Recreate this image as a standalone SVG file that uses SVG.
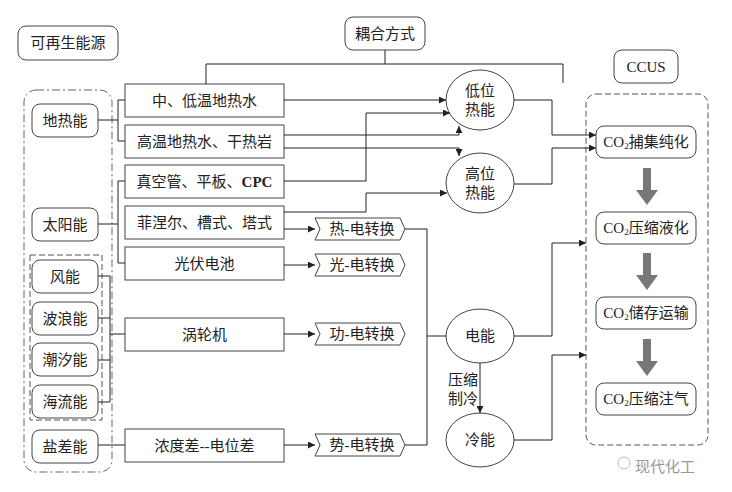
<svg xmlns="http://www.w3.org/2000/svg" width="732" height="492" viewBox="0 0 732 492">
<style>
.b{fill:#fff;stroke:#444;stroke-width:1}
.d{fill:none;stroke:#555;stroke-width:1;stroke-dasharray:6,3}
.dd{fill:none;stroke:#666;stroke-width:1;stroke-dasharray:8,3,2,3}
text{font-family:"Liberation Serif","Noto Sans CJK SC",serif;font-size:15px;fill:#222;text-anchor:middle;dominant-baseline:central}
.c path,.c line{fill:none;stroke:#222;stroke-width:1}
.a{marker-end:url(#ar)}
</style>
<defs>
<marker id="ar" viewBox="0 0 10 10" refX="10" refY="5" markerWidth="7" markerHeight="7" orient="auto" markerUnits="userSpaceOnUse"><path d="M0,0L10,5L0,10z" fill="#222"/></marker>
</defs>
<rect width="732" height="492" fill="#fff"/>
<g id="title-left"><rect class="b" x="18" y="26" width="100" height="34" rx="8"/><text x="68" y="43">可再生能源</text></g>
<rect class="dd" x="24" y="90" width="88" height="382" rx="12"/>
<rect class="d" x="30" y="255" width="72" height="165"/>
<g id="n-geo"><rect class="b" x="32" y="104" width="66" height="33" rx="8"/><text x="65" y="120.5">地热能</text></g>
<g id="n-sun"><rect class="b" x="32" y="208" width="66" height="33" rx="8"/><text x="65" y="224.5">太阳能</text></g>
<g id="n-wind"><rect class="b" x="32" y="260" width="66" height="33" rx="8"/><text x="65" y="276.5">风能</text></g>
<g id="n-wave"><rect class="b" x="32" y="302" width="66" height="33" rx="8"/><text x="65" y="318.5">波浪能</text></g>
<g id="n-tide"><rect class="b" x="32" y="343" width="66" height="33" rx="8"/><text x="65" y="359.5">潮汐能</text></g>
<g id="n-ocean"><rect class="b" x="32" y="385" width="66" height="33" rx="8"/><text x="65" y="401.5">海流能</text></g>
<g id="n-salt"><rect class="b" x="32" y="430" width="66" height="33" rx="8"/><text x="65" y="446.5">盐差能</text></g>

<g id="m1"><rect class="b" x="125" y="84" width="159" height="33"/><text x="204.5" y="100.5">中、低温地热水</text></g>
<g id="m2"><rect class="b" x="125" y="125" width="159" height="33"/><text x="204.5" y="141.5">高温地热水、干热岩</text></g>
<g id="m3"><rect class="b" x="125" y="165" width="159" height="33"/><text x="204.5" y="181.5">真空管、平板、<tspan font-weight="bold">CPC</tspan></text></g>
<g id="m4"><rect class="b" x="125" y="206" width="159" height="33"/><text x="204.5" y="222.5">菲涅尔、槽式、塔式</text></g>
<g id="m5"><rect class="b" x="125" y="247" width="159" height="33"/><text x="204.5" y="263.5">光伏电池</text></g>
<g id="m6"><rect class="b" x="125" y="318" width="159" height="33"/><text x="204.5" y="334.5">涡轮机</text></g>
<g id="m7"><rect class="b" x="125" y="429" width="159" height="33"/><text x="204.5" y="445.5">浓度差--电位差</text></g>

<g id="cv1"><path class="b" d="M315,218H400L405,229L400,240H315L320,229z"/><text x="362" y="229">热-电转换</text></g>
<g id="cv2"><path class="b" d="M315,254H400L405,265L400,276H315L320,265z"/><text x="362" y="265">光-电转换</text></g>
<g id="cv3"><path class="b" d="M315,323H400L405,334L400,345H315L320,334z"/><text x="362" y="334">功-电转换</text></g>
<g id="cv4"><path class="b" d="M315,434H400L405,445L400,456H315L320,445z"/><text x="362" y="445">势-电转换</text></g>

<g id="coupling"><rect class="b" x="345" y="17" width="80" height="33" rx="8"/><text x="385" y="33.5">耦合方式</text></g>

<g id="e-low"><ellipse class="b" cx="480" cy="100" rx="34" ry="30"/><text x="480" y="91">低位</text><text x="480" y="110">热能</text></g>
<g id="e-high"><ellipse class="b" cx="480" cy="183" rx="34" ry="30"/><text x="480" y="174">高位</text><text x="480" y="193">热能</text></g>
<g id="e-elec"><ellipse class="b" cx="480" cy="336" rx="34" ry="27"/><text x="480" y="336">电能</text></g>
<g id="e-cold"><ellipse class="b" cx="480" cy="440" rx="34" ry="27"/><text x="480" y="440">冷能</text></g>
<text x="463" y="380">压缩</text><text x="463" y="399">制冷</text>

<g id="ccus-title"><rect class="b" x="614" y="50" width="64" height="33" rx="8"/><text x="646" y="66.5">CCUS</text></g>
<rect class="d" x="586" y="94" width="122" height="351" rx="10"/>
<g id="c1"><rect class="b" x="596" y="126" width="100" height="32" rx="8"/><text x="646" y="142">CO<tspan font-size="9" dy="4">2</tspan><tspan dy="-4">捕集纯化</tspan></text></g>
<g id="c2"><rect class="b" x="596" y="212" width="100" height="32" rx="8"/><text x="646" y="228">CO<tspan font-size="9" dy="4">2</tspan><tspan dy="-4">压缩液化</tspan></text></g>
<g id="c3"><rect class="b" x="596" y="297" width="100" height="32" rx="8"/><text x="646" y="313">CO<tspan font-size="9" dy="4">2</tspan><tspan dy="-4">储存运输</tspan></text></g>
<g id="c4"><rect class="b" x="596" y="383" width="100" height="32" rx="8"/><text x="646" y="399">CO<tspan font-size="9" dy="4">2</tspan><tspan dy="-4">压缩注气</tspan></text></g>
<g fill="#777">
<path d="M643,168h8v22h7l-11,15l-11,-15h7z"/>
<path d="M643,253h8v22h7l-11,15l-11,-15h7z"/>
<path d="M643,339h8v22h7l-11,15l-11,-15h7z"/>
</g>

<g id="connectors" class="c">
<path d="M98,120H118M125,100H118V141H125"/>
<path d="M98,224H118M125,181H118V263H125"/>
<path d="M98,276H110V402H98M98,318H110M98,360H110M110,334H125"/>
<path d="M98,445H125"/>
<path d="M385,50V64M206,84V64H563V83"/>
<path class="a" d="M284,100H446"/>
<path class="a" d="M284,181H366V113H450"/>
<path class="a" d="M284,135H459V126"/>
<path class="a" d="M284,148H459V156"/>
<path class="a" d="M284,212H366V193H447"/>
<path class="a" d="M284,229H315"/>
<path class="a" d="M284,265H315"/>
<path class="a" d="M284,334H315"/>
<path class="a" d="M284,445H315"/>
<path d="M405,229H427V445H405M427,336H446"/>
<path class="a" d="M514,100H552V135H596"/>
<path class="a" d="M514,184H552V148H596"/>
<path class="a" d="M480,363V413"/>
<path class="a" d="M514,336H552V243H586"/>
<path class="a" d="M514,440H552V355H586"/>
</g>
<text x="665" y="465" style="fill:#999;font-size:15px;font-family:'Noto Sans CJK SC',sans-serif">现代化工</text>
<circle cx="624" cy="463" r="6" fill="none" stroke="#bbb"/>
</svg>
